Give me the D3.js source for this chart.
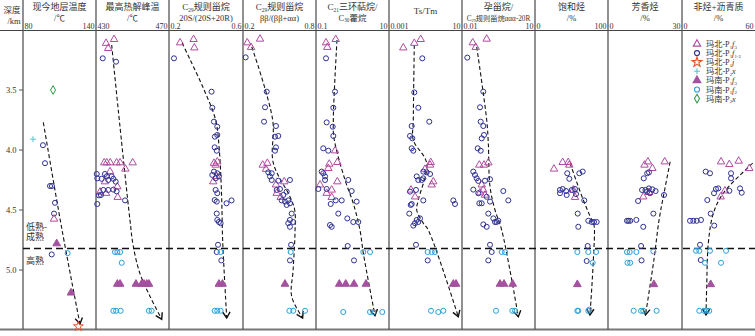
<!DOCTYPE html>
<html lang="zh">
<head>
<meta charset="UTF-8">
<title>depth profiles</title>
<style>
  body { margin: 0; background: #fff; }
  text { font-family: "Liberation Serif", "Noto Sans CJK SC", serif; fill: #333; }
</style>
</head>
<body>
<svg width="755" height="336"></svg>
<script src="https://cdn.jsdelivr.net/npm/d3@7"></script>
<script>
// ---- data ----
var depthTicks = [3.5, 4.0, 4.5, 5.0];
var boundaryDepth = 4.82;

var titles = [
  ["现今地层温度", "/℃"], ["最高热解峰温", "/℃"],
  ["C_{29}规则甾烷", "20S/(20S+20R)"], ["C_{29}规则甾烷", "ββ/(ββ+αα)"],
  ["C_{21}三环萜烷/", "C_{30}藿烷"], ["Ts/Tm"],
  ["孕甾烷/", "C_{29}规则甾烷ααα-20R"], ["饱和烃", "/%"], ["芳香烃", "/%"], ["非烃+沥青质", "/%"]
];
var domains = [[80, 140], [430, 470], [0.2, 0.6], [0.2, 0.8], [0.1, 10], [0.001, 10], [0.01, 10], [0, 100], [0, 30], [0, 60]];
var endLabels = [["80", "140"], ["430", "470"], ["0.2", "0.6"], ["0.2", "0.8"], ["0.1", "10"], ["0.001", "10"], ["0.01", "10"], ["0", "100"], ["0", "30"], ["0", "60"]];
var logPanel = [false, false, false, false, true, true, true, false, false, false];

var seriesKeys = ["bF3", "bF12", "bJ", "bX", "nF3", "nF2", "nX"];
var seriesLabels = ["玛北-P_{1}*f*_{3}", "玛北-P_{1}*f*_{1-2}", "玛北-P_{1}*j*", "玛北-P_{2}*x*",
  "玛南-P_{1}*f*_{3}", "玛南-P_{1}*f*_{2}", "玛南-P_{2}*x*"];

// [series, depth km, value]
var tempData = [["nX",3.5,104.7],["bX",3.91,88.2],["bF12",3.96,96.4],["bF12",4.11,98.1],["bF12",4.3,102.2],["bF12",4.3,103.8],
  ["bF12",4.44,106.3],["bF12",4.53,105.5],["bF3",4.575,105.5],["nF3",4.78,107.7],["bF12",4.87,103.6],["nF2",4.86,116.7],
  ["nF3",5.19,119.5],["bJ",5.47,125.5]];
var tempTrend = [[3.77,96.7],[4.65,111.8],[5.45,126.8]];

var tmaxData = [["bF3",3.078,439.9],["bF3",3.11,435.5],["bF3",3.153,436.7],["bF12",3.236,433.7],["bF12",3.264,441],
  ["bF3",4.106,434.5],["bF3",4.106,435.9],["bF3",4.106,437.8],["bF3",4.106,441.3],["bF3",4.106,443.2],["bF3",4.106,450.1],
  ["bF3",4.158,446.1],["bF3",4.18,437.7],["bF3",4.264,434.9],["bF3",4.306,441.7],["bF3",4.35,432.2],["bF3",4.36,435.5],["bF3",4.394,441.9],
  ["bF12",4.2,430.4],["bF12",4.236,430.7],["bF12",4.24,433.1],["bF12",4.2,434.9],["bF12",4.22,435.9],["bF12",4.25,436.7],
  ["bF12",4.22,438.6],["bF12",4.24,439.5],["bF12",4.264,440.8],["bF12",4.333,434],["bF12",4.333,436.7],["bF12",4.33,439.5],
  ["bF12",4.344,441.3],["bF12",4.378,431.6],["bF12",4.375,432.7],["bF12",4.42,445.9],["bF12",4.45,430.7],
  ["nF2",4.85,440.4],["nF2",4.85,441.7],["nF2",4.85,443.2],["nF2",4.94,444.1],
  ["nF3",5.117,441.7],["nF3",5.117,443.2],["nF3",5.117,451.9],["nF3",5.117,455],["nF3",5.117,456.3],["nF3",5.117,457.8],["nF3",5.117,459],
  ["nF2",5.34,439.5],["nF2",5.34,441],["nF2",5.34,443.5],["nF2",5.34,459],["nF2",5.34,460.5]];
var tmaxTrend = [[3.125,438.6],[3.667,442.2],[4.583,448.6],[4.8,450.4],[5.03,454.1],[5.22,459.6],[5.41,466]];

var c29sData = [["bF3",3.106,0.26],["bF3",3.078,0.333],["bF3",3.148,0.337],["bF12",3.236,0.227],["bF12",3.514,0.43],
  ["bF12",3.648,0.434],["bF12",3.764,0.443],["bF12",3.806,0.461],["bF12",3.875,0.461],["bF12",3.889,0.448],["bF12",3.978,0.447],
  ["bF12",4.006,0.458],["bF3",4.11,0.443],["bF3",4.125,0.452],["bF3",4.098,0.461],["bF3",4.264,0.439],["bF3",4.22,0.458],
  ["bF12",4.18,0.443],["bF12",4.194,0.461],["bF12",4.208,0.434],["bF12",4.236,0.452],["bF12",4.22,0.47],["bF12",4.333,0.452],
  ["bF12",4.36,0.461],["bF12",4.417,0.447],["bF12",4.43,0.458],["bF12",4.444,0.511],["bF12",4.42,0.538],["bF12",4.53,0.458],
  ["bF12",4.583,0.461],["bF12",4.6,0.47],["bF12",4.61,0.479],["bF12",4.79,0.465],["bF12",4.85,0.458],["bF12",4.92,0.483],
  ["nF2",4.85,0.479],["nF2",5.34,0.447],["nF2",5.34,0.461],["nF2",5.34,0.479],["nF3",5.117,0.47],["nF3",5.117,0.489]];
var c29sTrend = [[3.108,0.271],[3.25,0.315],[3.5,0.39],[3.75,0.452],[4.0,0.472],[4.417,0.485],[4.75,0.49],[5.4,0.512]];

var c29bData = [["bF3",3.106,0.235],["bF3",3.144,0.266],["bF3",3.075,0.34],["bF12",3.228,0.222],["bF12",3.514,0.395],
  ["bF12",3.644,0.381],["bF12",3.764,0.373],["bF12",3.8,0.471],["bF12",3.883,0.49],["bF12",3.889,0.463],["bF12",3.978,0.471],
  ["bF12",4.006,0.463],["bF3",4.125,0.362],["bF3",4.11,0.4],["bF3",4.16,0.389],["bF3",4.29,0.471],["bF3",4.264,0.539],
  ["bF3",4.36,0.477],["bF3",4.394,0.51],["bF12",4.186,0.408],["bF12",4.194,0.436],["bF12",4.22,0.422],["bF12",4.25,0.436],
  ["bF12",4.256,0.49],["bF12",4.25,0.586],["bF12",4.325,0.504],["bF12",4.333,0.477],["bF12",4.347,0.559],["bF12",4.375,0.531],
  ["bF12",4.42,0.518],["bF12",4.43,0.545],["bF12",4.42,0.572],["bF12",4.458,0.559],["bF12",4.444,0.586],["bF12",4.53,0.6],
  ["bF12",4.583,0.586],["bF12",4.6,0.613],["bF12",4.61,0.572],["bF12",4.64,0.586],["bF12",4.79,0.595],["bF12",4.92,0.586],
  ["nF2",4.85,0.592],["nF2",5.34,0.581],["nF2",5.34,0.613],["nF2",5.34,0.71],["nF3",5.117,0.545]];
var c29bTrend = [[3.14,0.272],[3.75,0.444],[4.108,0.449],[4.389,0.586],[4.5,0.625],[4.7,0.627],[5.0,0.612],[5.22,0.6],[5.4,0.69]];

var triData = [["bF3",3.106,0.188],["bF3",3.144,0.204],["bF3",3.078,0.347],["bF12",3.236,0.188],["bF12",3.514,0.332],
  ["bF12",3.648,0.298],["bF12",3.77,0.196],["bF12",3.806,0.287],["bF12",3.883,0.298],["bF12",3.986,0.158],["bF12",4.006,0.217],
  ["bF3",4.006,0.332],["bF3",4.103,0.384],["bF3",4.117,0.231],["bF3",4.153,0.217],["bF3",4.264,0.384],["bF3",4.29,0.129],
  ["bF3",4.333,0.269],["bF3",4.36,0.196],["bF3",4.394,0.269],["bF12",4.18,0.143],["bF12",4.194,0.158],["bF12",4.22,0.177],
  ["bF12",4.25,0.177],["bF12",4.25,0.767],["bF12",4.325,0.116],["bF12",4.325,0.196],["bF12",4.342,0.95],["bF12",4.42,0.347],
  ["bF12",4.42,0.506],["bF12",4.43,1.3],["bF12",4.45,0.253],["bF12",4.53,0.408],["bF12",4.57,0.721],["bF12",4.6,1.05],
  ["bF12",4.6,1.44],["bF12",4.625,0.242],["bF12",4.64,0.269],["bF12",4.8,0.738],["bF12",4.92,1.1],
  ["nF2",4.85,1.98],["nF2",4.85,3.02],["nF2",5.35,0.56],["nF2",5.35,3.02],["nF2",5.35,3.72],["nF2",5.35,6.55],
  ["nF3",5.117,0.435],["nF3",5.117,0.652],["nF3",5.117,1.1],["nF3",5.117,2.34]];
var triTrend = [[3.083,0.376],[3.75,0.298],[3.9,0.311],[4.25,0.624],[4.444,1.05],[4.667,1.6],[4.86,1.98],[5.38,4.13]];

var tstmData = [["bF3",3.148,0.00608],["bF3",3.11,0.0243],["bF3",3.078,0.0546],["bF12",3.236,0.0667],["bF12",3.52,0.0243],
  ["bF12",3.648,0.0403],["bF12",3.764,0.161],["bF12",3.8,0.0175],["bF12",3.883,0.0142],["bF12",3.903,0.0189],["bF12",3.986,0.0175],
  ["bF12",4.006,0.0215],["bF3",4.103,0.193],["bF3",4.125,0.178],["bF3",4.16,0.094],["bF3",4.264,0.267],["bF3",4.29,0.218],
  ["bF3",4.333,0.016],["bF3",4.39,0.0266],["bF12",4.18,0.0757],["bF12",4.186,0.116],["bF12",4.2,0.178],["bF12",4.22,0.033],
  ["bF12",4.25,0.0403],["bF12",4.25,0.0619],["bF12",4.236,0.0757],["bF12",4.333,0.0301],["bF12",4.347,0.0142],["bF12",4.45,0.0175],
  ["bF12",4.458,0.0155],["bF12",4.42,0.0757],["bF12",4.42,3.34],["bF12",4.45,4.13],["bF12",4.53,0.0129],["bF12",4.583,0.033],
  ["bF12",4.57,0.05],["bF12",4.61,0.0266],["bF12",4.63,0.0215],["bF12",4.6,0.0403],["bF12",4.79,0.0301],["bF12",4.92,0.132],
  ["nF2",4.85,0.132],["nF2",4.85,0.218],["nF2",4.85,0.332],["nF2",5.34,0.2],["nF2",5.35,0.502],["nF2",5.34,0.945],
  ["nF3",5.117,3.34],["nF3",5.117,4.69]];
var tstmTrend = [[3.125,0.0243],[3.75,0.0215],[3.917,0.0215],[4.11,0.116],[4.417,0.0403],[4.5,0.033],[4.61,0.0757],[4.667,0.142],[5.39,6.27]];

var pregData = [["bF3",3.106,0.0276],["bF3",3.144,0.0366],["bF3",3.075,0.1035],["bF12",3.23,0.0165],["bF12",3.514,0.075],
  ["bF12",3.644,0.055],["bF12",3.764,0.0586],["bF12",3.8,0.075],["bF12",3.875,0.0801],["bF12",3.903,0.0646],["bF12",3.986,0.0442],
  ["bF12",4.006,0.0586],["bF3",4.125,0.0514],["bF3",4.125,0.0801],["bF3",4.106,0.1205],["bF3",4.29,0.0646],["bF3",4.333,0.075],
  ["bF3",4.356,0.055],["bF3",4.375,0.0881],["bF12",4.18,0.0291],["bF12",4.208,0.0342],["bF12",4.236,0.0402],["bF12",4.258,0.0468],
  ["bF12",4.256,0.0881],["bF12",4.244,0.1417],["bF12",4.33,0.0291],["bF12",4.36,0.0468],["bF12",4.39,0.1035],["bF12",4.342,0.498],
  ["bF12",4.42,0.8],["bF12",4.444,0.0514],["bF12",4.444,0.0646],["bF12",4.43,0.1417],["bF12",4.53,0.1205],["bF12",4.57,0.194],
  ["bF12",4.6,0.266],["bF12",4.59,0.31],["bF12",4.6,0.227],["bF12",4.62,0.075],["bF12",4.64,0.1035],["bF12",4.79,0.1417],
  ["bF12",4.85,0.166],["bF12",4.92,0.1205],["nF2",4.85,0.428],["nF2",4.85,0.585],["nF2",5.34,0.249],["nF2",5.34,1.17],
  ["nF2",5.34,1.51],["nF3",5.117,0.365],["nF3",5.117,0.532],["nF3",5.117,1.21]];
var pregTrend = [[3.14,0.0402],[3.75,0.1035],[3.942,0.1205],[4.306,0.1417],[4.5,0.227],[4.667,0.428],[5.39,2.06]];

var satData = [["bF3",4.158,26],["bF3",4.103,37.9],["bF3",4.103,45.6],["bF3",4.125,47],["bF3",4.394,54.8],["bF3",4.333,52.5],
  ["bF12",4.194,44.2],["bF12",4.24,47],["bF12",4.194,60.7],["bF12",4.18,65.3],["bF12",4.333,34.2],["bF12",4.325,37.9],
  ["bF12",4.36,34.2],["bF12",4.342,42.5],["bF12",4.375,43.4],["bF12",4.333,50.3],["bF12",4.325,54.8],["bF12",4.367,56.2],
  ["bF12",4.42,67.5],["bF12",4.53,58.5],["bF12",4.64,59.3],["bF12",4.59,73],["bF12",4.6,77.7],["bF12",4.6,80.8],["bF12",4.6,84.5],
  ["bF12",4.8,72.2],["bF12",4.925,70.8],["nF2",4.85,58],["nF2",4.85,73],["nF2",4.85,83.6],["nF2",4.94,79],["nF2",5.34,58],
  ["nF2",5.34,59.3],["nF2",5.34,73],["nF2",5.33,74.4],["nF3",5.12,58]];
var satTrend = [[4.11,48],[4.417,66.2],[4.583,77.7],[4.625,80.8],[4.917,79.9],[5.375,75.3]];

var aroData = [["bF3",4.125,14.8],["bF3",4.098,16.2],["bF3",4.153,18],["bF3",4.098,23],["bF3",4.39,14.3],["bF3",4.353,16.6],
  ["bF12",4.186,16.6],["bF12",4.194,15.9],["bF12",4.236,14.5],["bF12",4.333,13.8],["bF12",4.333,15.2],["bF12",4.347,15.9],
  ["bF12",4.32,16.6],["bF12",4.328,18],["bF12",4.342,19.3],["bF12",4.36,17],["bF12",4.425,12.2],["bF12",4.53,18.4],
  ["bF12",4.64,14.3],["bF12",4.375,22.7],["bF12",4.59,7.7],["bF12",4.59,8.3],["bF12",4.59,9],["bF12",4.583,11.5],
  ["bF12",4.8,13.4],["bF12",4.92,13.6],["nF2",4.85,7.7],["nF2",4.85,8.8],["nF2",4.85,11.5],["nF2",4.845,18.4],
  ["nF2",4.94,7.9],["nF2",4.94,9],["nF2",5.34,10.4],["nF2",5.34,13.4],["nF2",5.34,14.3],["nF2",5.34,19.7],["nF3",5.12,18.6]];
var aroTrend = [[4.098,25.2],[4.36,22.7],[4.583,20.7],[4.917,18.6],[5.375,15.2]];

var resData = [["bF3",4.098,32.1],["bF3",4.12,38.9],["bF3",4.092,46.6],["bF3",4.153,55.3],["bF3",4.34,35.3],["bF3",4.39,31.8],
  ["bF12",4.18,19.5],["bF12",4.194,23],["bF12",4.194,40.3],["bF12",4.236,40.3],["bF12",4.32,29.8],["bF12",4.325,27.9],
  ["bF12",4.36,26.3],["bF12",4.34,38.9],["bF12",4.32,47.7],["bF12",4.356,49.1],["bF12",4.417,20.8],["bF12",4.53,23.6],
  ["bF12",4.63,26.5],["bF12",4.59,6.6],["bF12",4.59,9.3],["bF12",4.59,12.1],["bF12",4.583,15.6],["bF12",4.79,14.8],
  ["bF12",4.917,15.4],["nF2",4.84,11.5],["nF2",4.84,14.2],["nF2",4.84,23],["nF2",4.84,36.2],["nF2",4.94,18.9],["nF2",4.94,32.1],
  ["nF2",5.34,14.2],["nF2",5.34,18.1],["nF2",5.34,20.3],["nF2",5.34,22.4],["nF3",5.12,23.6]];
var resTrend = [[4.11,58.1],[4.36,33.9],[4.53,25.7],[4.78,21.6],[5.14,20.3],[5.375,19.7]];

var panelData = [tempData, tmaxData, c29sData, c29bData, triData, tstmData, pregData, satData, aroData, resData];
var panelTrend = [tempTrend, tmaxTrend, c29sTrend, c29bTrend, triTrend, tstmTrend, pregTrend, satTrend, aroTrend, resTrend];

// ---- layout ----
var panelX = [23, 96, 169, 243, 316, 389, 462, 535, 608, 682, 755];
var headTop = 0, headBottom = 30.5, plotBottom = 329.5;

var svg = d3.select("svg");
var y = d3.scaleLinear().domain([3.0, 5.5]).range([30, 330]);

var styles = {
  bF3:  { shape: d3.symbolTriangle, size: 24, stroke: "#b24a9f", fill: "none" },
  bF12: { shape: d3.symbolCircle, size: 20, stroke: "#2e3192", fill: "none" },
  bJ:   { shape: d3.symbolStar, size: 30, stroke: "#e8502a", fill: "none" },
  bX:   { shape: null, size: 0, stroke: "#5bc3cf", fill: "none" },
  nF3:  { shape: d3.symbolTriangle, size: 26, stroke: "#a4519f", fill: "#a4519f" },
  nF2:  { shape: d3.symbolCircle, size: 20, stroke: "#2a9fd8", fill: "none" },
  nX:   { shape: d3.symbolDiamond, size: 22, stroke: "#2e9e45", fill: "none" }
};
function markerPath(key) {
  var s = styles[key];
  if (!s.shape) return "M-3,0H3M0,-3V3";
  return d3.symbol().type(s.shape).size(s.size)();
}

// rich text: _{sub} and *italic*
function richText(sel, str, size) {
  var re = /_\{([^}]*)\}|\*([^*]*)\*|([^_*]+)/g, m, shift = 0, drop = size * 0.2;
  while ((m = re.exec(str))) {
    var t = sel.append("tspan");
    if (m[1] !== undefined) {
      t.text(m[1]).attr("font-size", size * 0.6).attr("dy", drop - shift);
      shift = drop;
    } else {
      t.text(m[2] || m[3]).attr("dy", -shift);
      if (m[2]) t.attr("font-style", "italic");
      shift = 0;
    }
  }
}

// frame
svg.append("line").attr("x1", 0).attr("x2", 755).attr("y1", headBottom).attr("y2", headBottom)
  .attr("stroke", "#444").attr("stroke-width", 1);
svg.append("line").attr("x1", 0).attr("x2", 755).attr("y1", plotBottom).attr("y2", plotBottom)
  .attr("stroke", "#777").attr("stroke-width", 2);
svg.selectAll(".vsep").data(panelX.slice(0, 10)).enter().append("line")
  .attr("x1", function(d) { return d; }).attr("x2", function(d) { return d; })
  .attr("y1", headTop).attr("y2", plotBottom)
  .attr("stroke", "#555").attr("stroke-width", 1.3);

// depth header + axis
svg.append("text").attr("x", 12).attr("y", 12.5).attr("text-anchor", "middle").attr("font-size", 8.5).text("深度");
svg.append("text").attr("x", 14).attr("y", 23.5).attr("text-anchor", "middle").attr("font-size", 8.5).text("/km");
var ticks = svg.selectAll(".dtick").data(depthTicks).enter().append("g");
ticks.append("line").attr("x1", 19).attr("x2", 23)
  .attr("y1", function(d) { return y(d); }).attr("y2", function(d) { return y(d); })
  .attr("stroke", "#555");
ticks.append("text").attr("x", 16.5).attr("y", function(d) { return y(d) + 3; })
  .attr("text-anchor", "end").attr("font-size", 8.5).attr("fill", "#555")
  .text(function(d) { return d.toFixed(1); });

// maturity boundary
svg.append("line").attr("x1", 23).attr("x2", 755).attr("y1", y(boundaryDepth)).attr("y2", y(boundaryDepth))
  .attr("stroke", "#111").attr("stroke-width", 1.5).attr("stroke-dasharray", "7,4");
svg.append("text").attr("x", 26).attr("y", 230).attr("font-size", 9).text("低熟-");
svg.append("text").attr("x", 26).attr("y", 240).attr("font-size", 9).text("成熟");
svg.append("text").attr("x", 26).attr("y", 264).attr("font-size", 9).text("高熟");

// panels
panelData.forEach(function(rows, i) {
  var x0 = panelX[i], x1 = panelX[i + 1];
  var x = (logPanel[i] ? d3.scaleLog() : d3.scaleLinear()).domain(domains[i]).range([x0, x1]);
  var cx = (x0 + x1) / 2;
  var g = svg.append("g");

  var tl = titles[i];
  if (tl.length === 1) {
    richText(g.append("text").attr("x", cx).attr("y", 14).attr("text-anchor", "middle").attr("font-size", 9), tl[0], 9);
  } else {
    richText(g.append("text").attr("x", cx).attr("y", 10).attr("text-anchor", "middle").attr("font-size", 9), tl[0], 9);
    var fs2 = tl[1].length > 14 ? 7.2 : 8.5;
    richText(g.append("text").attr("x", cx).attr("y", 20.5).attr("text-anchor", "middle").attr("font-size", fs2), tl[1], fs2);
  }
  g.append("text").attr("x", x0 + 1.5).attr("y", 29.3).attr("font-size", 8).text(endLabels[i][0]);
  g.append("text").attr("x", x1 - 1.5).attr("y", 29.3).attr("text-anchor", "end").attr("font-size", 8).text(endLabels[i][1]);

  // trend
  var trend = panelTrend[i];
  var line = d3.line().x(function(d) { return x(d[1]); }).y(function(d) { return y(d[0]); })
    .curve(d3.curveCatmullRom.alpha(0.5));
  g.append("path").attr("d", line(trend)).attr("fill", "none")
    .attr("stroke", "#111").attr("stroke-width", 1.1).attr("stroke-dasharray", "4,2.5");
  var pa = trend[trend.length - 2], pb = trend[trend.length - 1];
  var tx = x(pb[1]), ty = y(pb[0]);
  var ang = Math.atan2(ty - y(pa[0]), tx - x(pa[1]));
  var L = 7, spread = 0.55;
  g.append("path")
    .attr("d", "M" + (tx - L * Math.cos(ang - spread)) + "," + (ty - L * Math.sin(ang - spread)) +
      "L" + tx + "," + ty +
      "L" + (tx - L * Math.cos(ang + spread)) + "," + (ty - L * Math.sin(ang + spread)))
    .attr("fill", "none").attr("stroke", "#111").attr("stroke-width", 1.4);

  // points
  g.selectAll(".pt").data(rows).enter().append("path")
    .attr("d", function(d) { return markerPath(d[0]); })
    .attr("transform", function(d) { return "translate(" + x(d[2]) + "," + y(d[1]) + ")"; })
    .attr("fill", function(d) { return styles[d[0]].fill; })
    .attr("stroke", function(d) { return styles[d[0]].stroke; })
    .attr("stroke-width", 1);
});

// legend
var leg = svg.append("g").selectAll("g").data(seriesKeys).enter().append("g")
  .attr("transform", function(d, i) { return "translate(697," + (44 + i * 9.1) + ")"; });
leg.append("path").attr("d", function(d) { return markerPath(d); })
  .attr("fill", function(d) { return styles[d].fill; })
  .attr("stroke", function(d) { return styles[d].stroke; }).attr("stroke-width", 1.1);
leg.each(function(d, i) {
  richText(d3.select(this).append("text").attr("x", 9).attr("y", 3).attr("font-size", 8.2), seriesLabels[i], 8.2);
});
</script>
</body>
</html>
